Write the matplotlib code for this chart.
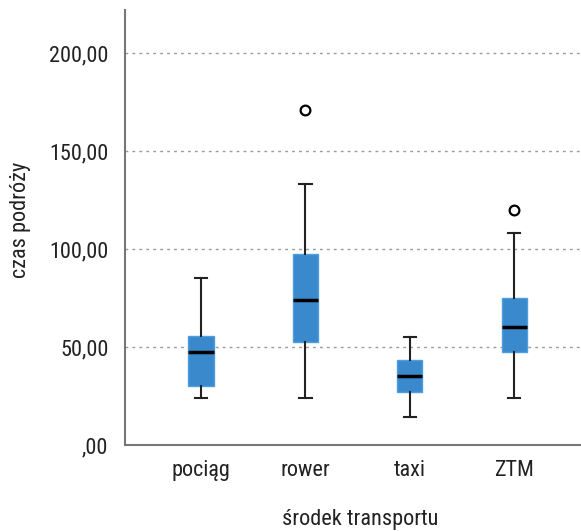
import matplotlib
matplotlib.use("Agg")
import matplotlib.pyplot as plt

# values
categories = ["pociąg", "rower", "taxi", "ZTM"]
whisker_low = [24.1, 24.1, 14.1, 24.1]
q1 = [30.1, 52.7, 27.2, 47.4]
median = [47.3, 74.0, 35.2, 60.2]
q3 = [55.8, 97.6, 43.4, 74.8]
whisker_high = [85.0, 133.0, 55.0, 108.0]
outliers = [[], [170.9], [], [120.0]]

y_ticks = [0, 50, 100, 150, 200]
y_tick_labels = [",00", "50,00", "100,00", "150,00", "200,00"]

plt.rcParams["font.family"] = ["Roboto Condensed", "DejaVu Sans"]

BOX_FILL = "#3a89cc"
BOX_EDGE = "#4d9fe0"
TEXT = "#222222"
FS = 16

stats = []
for i, name in enumerate(categories):
    stats.append({
        "label": name,
        "whislo": whisker_low[i],
        "q1": q1[i],
        "med": median[i],
        "q3": q3[i],
        "whishi": whisker_high[i],
        "fliers": outliers[i],
    })

fig = plt.figure(figsize=(5.81, 5.31), dpi=100)
ax = fig.add_axes([125 / 581, 86 / 531, 1 - 125 / 581, (445 - 10) / 531])

ax.bxp(
    stats,
    positions=range(len(categories)),
    widths=0.24,
    patch_artist=True,
    boxprops=dict(facecolor=BOX_FILL, edgecolor=BOX_EDGE, linewidth=1.0),
    medianprops=dict(color="black", linewidth=2.5),
    whiskerprops=dict(color="#222222", linewidth=1.5),
    capprops=dict(color="#222222", linewidth=1.5),
    capwidths=0.12,
    flierprops=dict(marker="o", markerfacecolor="none", markeredgecolor="black",
                    markersize=7, markeredgewidth=1.6),
    zorder=3,
)

ax.set_xlim(-0.728, 3.64)
ax.set_ylim(0, 222)
ax.set_yticks(y_ticks)
ax.set_yticklabels(y_tick_labels, fontsize=FS, color=TEXT)
ax.set_xticks(range(len(categories)))
ax.set_xticklabels(categories, fontsize=FS, color=TEXT)
ax.tick_params(axis="both", length=0)
ax.tick_params(axis="y", pad=12)
ax.tick_params(axis="x", pad=11)

for y in y_ticks[1:]:
    ax.axhline(y, color="#9a9a9a", linestyle=(0, (2, 3)), linewidth=1.0, zorder=1)

for side in ["top", "right"]:
    ax.spines[side].set_visible(False)
for side in ["left", "bottom"]:
    ax.spines[side].set_color("#777777")
    ax.spines[side].set_linewidth(1.5)

ax.set_ylabel("czas podróży", fontsize=FS, color=TEXT, va="center")
ax.yaxis.set_label_coords(-0.230, 0.517)
ax.set_xlabel("środek transportu", fontsize=FS, color=TEXT, va="center")
ax.xaxis.set_label_coords(0.515, -0.172)

fig.savefig("out.png", dpi=100)
